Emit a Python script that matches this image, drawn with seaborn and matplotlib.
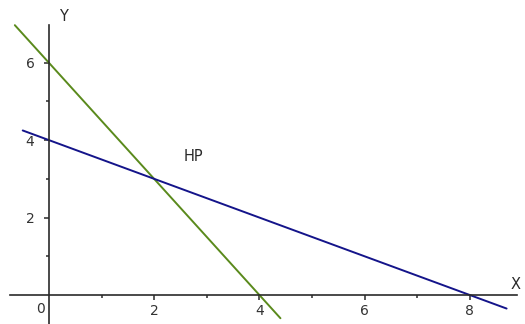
import matplotlib
matplotlib.use("Agg")
import matplotlib.pyplot as plt
import seaborn as sns
import pandas as pd
from matplotlib.ticker import FixedLocator

# Data
green_x = [-0.65, 4.4]
green_y = [6.97, -0.6]
blue_x = [-0.5, 8.7]
blue_y = [4.25, -0.35]
x_major = [2, 4, 6, 8]
x_minor = [1, 3, 5, 7]
y_major = [2, 4, 6]
y_minor = [1, 3, 5]
annot_text = "HP"
annot_pos = (2.74, 3.59)

sns.set_theme(style="white")
plt.rcParams['font.family'] = ['DejaVu Sans']

df = pd.DataFrame({
    "x": green_x + blue_x,
    "y": green_y + blue_y,
    "line": ["green"] * len(green_x) + ["blue"] * len(blue_x),
})

fig = plt.figure(figsize=(5.25, 3.24), dpi=100)
ax = fig.add_axes([0, 0, 1, 1])
sns.lineplot(data=df, x="x", y="y", hue="line",
             palette={"green": "#5a8a1c", "blue": "#14148a"},
             linewidth=1.4, legend=False, ax=ax, sort=False, estimator=None)

ax.set_xlim(-0.932, 9.05)
ax.set_ylim(-0.749, 7.62)

for s in ["top", "right"]:
    ax.spines[s].set_visible(False)
ax.spines["left"].set_position(("data", 0))
ax.spines["bottom"].set_position(("data", 0))
ax.spines["left"].set_bounds(-0.75, 6.98)
ax.spines["bottom"].set_bounds(-0.74, 8.9)
for s in ["left", "bottom"]:
    ax.spines[s].set_color("#2a2a2a")
    ax.spines[s].set_linewidth(1.2)

ax.xaxis.set_major_locator(FixedLocator(x_major))
ax.xaxis.set_minor_locator(FixedLocator(x_minor))
ax.yaxis.set_major_locator(FixedLocator(y_major))
ax.yaxis.set_minor_locator(FixedLocator(y_minor))
ax.tick_params(axis="both", which="major", direction="out", length=3.5,
               width=1.1, color="#2a2a2a", labelsize=10, labelcolor="#333333")
ax.tick_params(axis="both", which="minor", direction="out", length=2.5,
               width=1.1, color="#2a2a2a")
ax.tick_params(axis="x", which="major", pad=3)
ax.tick_params(axis="y", which="major", pad=7)
ax.tick_params(axis="x", which="both", bottom=True)
ax.tick_params(axis="y", which="both", left=True)

ax.set_xlabel("")
ax.set_ylabel("")
ax.text(-0.17, -0.36, "0", ha="center", va="center", fontsize=10, color="#333333")
ax.text(8.88, 0.27, "X", ha="center", va="center", fontsize=10.5, color="#2a2a2a")
ax.text(0.27, 7.2, "Y", ha="center", va="center", fontsize=10.5, color="#2a2a2a")
ax.text(annot_pos[0], annot_pos[1], annot_text, ha="center", va="center",
        fontsize=10.5, color="#2a2a2a")

fig.savefig("out.png", dpi=100)
